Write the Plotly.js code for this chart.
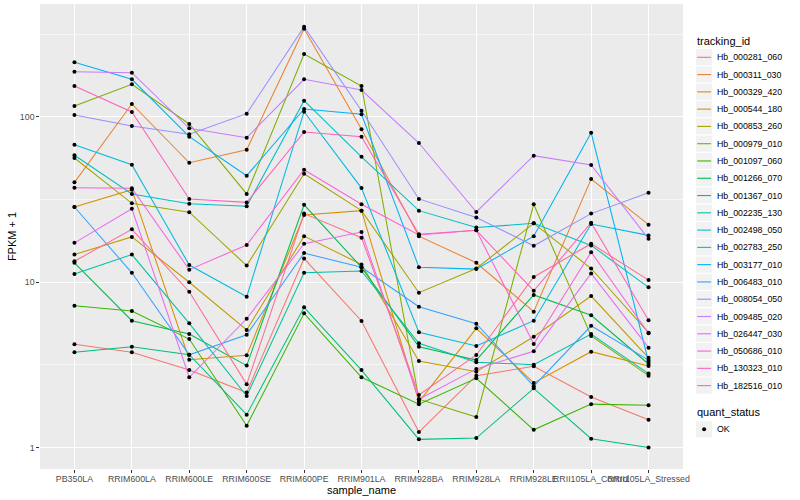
<!DOCTYPE html>
<html><head><meta charset="utf-8">
<script src="https://cdn.plot.ly/plotly-3.0.1.min.js"></script>
<style>html,body{margin:0;padding:0;background:#fff}#chart{width:800px;height:500px}</style>
</head><body><div id="chart"></div>
<script>
// ---- data ----
const sampleNames = ["PB350LA","RRIM600LA","RRIM600LE","RRIM600SE","RRIM600PE","RRIM901LA","RRIM928BA","RRIM928LA","RRIM928LE","RRII105LA_Control","RRII105LA_Stressed"];
const trackingIds = ["Hb_000281_060","Hb_000311_030","Hb_000329_420","Hb_000544_180","Hb_000853_260","Hb_000979_010","Hb_001097_060","Hb_001266_070","Hb_001367_010","Hb_002235_130","Hb_002498_050","Hb_002783_250","Hb_003177_010","Hb_006483_010","Hb_008054_050","Hb_009485_020","Hb_026447_030","Hb_050686_010","Hb_130323_010","Hb_182516_010"];
const yTickVals = [1, 10, 100];
const yTickText = ["1", "10", "100"];
const quantStatus = ["OK"];

// FPKM + 1 per gene, in sample order
const Hb_000281_060 = [4.21, 3.77, 2.94, 2.15, 13.9, 5.83, 1.24, 2.72, 3.10, 2.02, 1.47];
const Hb_000311_030 = [40.2, 119.7, 52.8, 63.3, 341.7, 84.1, 19.0, 13.1, 6.63, 42.1, 22.3];
const Hb_000329_420 = [28.5, 36.3, 3.40, 3.61, 25.5, 27.1, 1.89, 5.26, 2.46, 3.80, 3.11];
const Hb_000544_180 = [14.7, 18.8, 9.99, 5.14, 19.0, 12.8, 3.34, 2.87, 4.68, 8.25, 3.49];
const Hb_000853_260 = [56.4, 30.0, 26.5, 12.6, 45.3, 27.1, 8.64, 12.1, 22.7, 12.1, 4.95];
const Hb_000979_010 = [116.4, 157.5, 90.6, 34.2, 240.2, 153.8, 1.96, 1.53, 29.6, 4.73, 2.72];
const Hb_001097_060 = [7.21, 6.70, 4.53, 1.355, 6.48, 2.66, 1.83, 2.62, 1.28, 1.83, 1.80];
const Hb_001266_070 = [13.1, 5.85, 4.86, 3.13, 29.4, 12.3, 4.07, 3.38, 8.37, 6.31, 3.20];
const Hb_001367_010 = [3.77, 4.07, 3.64, 1.58, 7.05, 2.94, 1.12, 1.14, 2.28, 1.13, 1.00];
const Hb_002235_130 = [11.2, 14.7, 5.64, 2.05, 11.4, 11.7, 4.27, 3.28, 3.17, 4.86, 2.80];
const Hb_002498_050 = [58.6, 34.2, 29.8, 28.8, 125.3, 57.4, 27.1, 21.4, 22.7, 16.7, 9.31];
const Hb_002783_250 = [67.9, 51.4, 12.7, 8.17, 107.5, 37.1, 4.98, 4.11, 5.85, 22.5, 19.2];
const Hb_003177_010 = [213.9, 168.8, 75.9, 44.1, 111.6, 103.7, 12.3, 12.0, 19.0, 80.2, 3.30];
const Hb_006483_010 = [28.5, 11.4, 3.64, 4.81, 15.0, 12.3, 7.11, 5.61, 2.35, 5.45, 3.38];
const Hb_008054_050 = [102.7, 88.1, 78.5, 104.6, 351.4, 109.0, 31.9, 24.6, 16.6, 26.0, 34.8];
const Hb_009485_020 = [187.7, 185.1, 85.3, 74.8, 168.8, 145.4, 69.5, 26.6, 58.3, 51.2, 18.3];
const Hb_026447_030 = [17.3, 27.8, 2.66, 6.01, 17.1, 20.1, 1.96, 2.99, 3.82, 11.3, 4.02];
const Hb_050686_010 = [37.3, 37.0, 11.9, 16.8, 47.9, 29.6, 19.3, 20.6, 4.23, 15.2, 4.91];
const Hb_130323_010 = [153.8, 107.1, 31.9, 30.4, 81.0, 75.9, 19.5, 20.6, 8.88, 22.9, 5.88];
const Hb_182516_010 = [13.4, 20.9, 8.76, 2.41, 26.0, 18.6, 2.08, 3.63, 10.75, 17.1, 10.3];

const seriesValues = [Hb_000281_060, Hb_000311_030, Hb_000329_420, Hb_000544_180, Hb_000853_260, Hb_000979_010, Hb_001097_060, Hb_001266_070, Hb_001367_010, Hb_002235_130, Hb_002498_050, Hb_002783_250, Hb_003177_010, Hb_006483_010, Hb_008054_050, Hb_009485_020, Hb_026447_030, Hb_050686_010, Hb_130323_010, Hb_182516_010];

// ggplot2 default hue palette for 20 levels
const palette = ["#F8766D","#EA8331","#D89000","#C09B00","#A3A500","#7CAE00","#39B600","#00BB4E","#00BF7D","#00C1A3","#00BFC4","#00BAE0","#00B0F6","#35A2FF","#9590FF","#C77CFF","#E76BF3","#FA62DB","#FF62BC","#FF6C91"];

// ---- traces ----
const traces = trackingIds.map((id, i) => ({
  type: 'scatter', mode: 'lines', name: id,
  x: sampleNames, y: seriesValues[i],
  line: {color: palette[i], width: 1.05},
  showlegend: false, hoverinfo: 'name+y'
}));
const px = [], py = [];
seriesValues.forEach(vals => vals.forEach((v, j) => { px.push(sampleNames[j]); py.push(v); }));
traces.push({
  type: 'scatter', mode: 'markers', name: quantStatus[0], x: px, y: py,
  marker: {color: '#000000', size: 4, symbol: 'circle'}, showlegend: false
});

// ---- geometry helpers (pixel -> paper) ----
const PL = 40, PR = 683.5, PT = 4, PB = 469;
const xp = p => (p - PL) / (PR - PL);
const yp = p => (PB - p) / (PB - PT);

// ---- manual ggplot-style legend ----
const shapes = [], annotations = [];
const keyW = 17.3, step = 17.28, firstY = 57.3, keyX = 696;
annotations.push({xref:'paper', yref:'paper', x: xp(keyX), y: yp(40.5), xanchor:'left', yanchor:'middle',
  text:'tracking_id', showarrow:false, font:{size:11, color:'#000'}});
trackingIds.forEach((id, i) => {
  const cy = firstY + step * i;
  shapes.push({type:'rect', xref:'paper', yref:'paper', x0: xp(keyX), x1: xp(keyX + keyW), y0: yp(cy - step/2), y1: yp(cy + step/2),
    fillcolor:'#F2F2F2', line:{color:'#FFFFFF', width:1}, layer:'above'});
  shapes.push({type:'line', xref:'paper', yref:'paper', x0: xp(keyX + 1.7), x1: xp(keyX + keyW - 1.7), y0: yp(cy), y1: yp(cy),
    line:{color: palette[i], width:1.1}, layer:'above'});
  annotations.push({xref:'paper', yref:'paper', x: xp(716), y: yp(cy), xanchor:'left', yanchor:'middle',
    text: id, showarrow:false, font:{size:8.8, color:'#000'}});
});
annotations.push({xref:'paper', yref:'paper', x: xp(keyX), y: yp(412), xanchor:'left', yanchor:'middle',
  text:'quant_status', showarrow:false, font:{size:11, color:'#000'}});
const okY = 429.3;
shapes.push({type:'rect', xref:'paper', yref:'paper', x0: xp(keyX), x1: xp(keyX + keyW), y0: yp(okY - step/2), y1: yp(okY + step/2),
  fillcolor:'#F2F2F2', line:{color:'#FFFFFF', width:1}, layer:'above'});
shapes.push({type:'circle', xref:'paper', yref:'paper', x0: xp(keyX + keyW/2 - 2), x1: xp(keyX + keyW/2 + 2), y0: yp(okY - 2), y1: yp(okY + 2),
  fillcolor:'#000', line:{color:'#000', width:0}, layer:'above'});
annotations.push({xref:'paper', yref:'paper', x: xp(716), y: yp(okY), xanchor:'left', yanchor:'middle',
  text: quantStatus[0], showarrow:false, font:{size:8.8, color:'#000'}});

const layout = {
  width: 800, height: 500,
  margin: {l: PL, r: 800 - PR, t: PT, b: 500 - PB, pad: 0},
  paper_bgcolor: '#FFFFFF', plot_bgcolor: '#EBEBEB',
  font: {family: 'Liberation Sans, Arial, sans-serif', size: 8.8, color: '#4D4D4D'},
  showlegend: false,
  xaxis: {
    type: 'category', categoryorder: 'array', categoryarray: sampleNames,
    range: [-0.6, sampleNames.length - 0.4],
    showgrid: true, gridcolor: '#FFFFFF', gridwidth: 1.1, zeroline: false, showline: false,
    ticks: 'outside', ticklen: 2.7, tickwidth: 1, tickcolor: '#333333',
    tickfont: {size: 8.8, color: '#4D4D4D'}, tickangle: 0, ticklabelstandoff: -1,
    title: {text: 'sample_name', font: {size: 11, color: '#000'}, standoff: 1}
  },
  yaxis: {
    type: 'log', range: [-0.130, 2.683],
    tickmode: 'array', tickvals: yTickVals, ticktext: yTickText,
    showgrid: true, gridcolor: '#FFFFFF', gridwidth: 1.1, zeroline: false, showline: false,
    ticks: 'outside', ticklen: 2.7, tickwidth: 1, tickcolor: '#333333',
    tickfont: {size: 8.8, color: '#4D4D4D'},
    minor: {tickmode: 'array', tickvals: [Math.sqrt(10), Math.sqrt(1000), Math.sqrt(100000)], showgrid: true, gridcolor: '#FFFFFF', gridwidth: 0.55, ticks: ''},
    title: {text: 'FPKM + 1', font: {size: 11, color: '#000'}, standoff: 1}
  },
  shapes: shapes,
  annotations: annotations
};

Plotly.newPlot('chart', traces, layout, {displayModeBar: false, staticPlot: true});
</script>
</body></html>
